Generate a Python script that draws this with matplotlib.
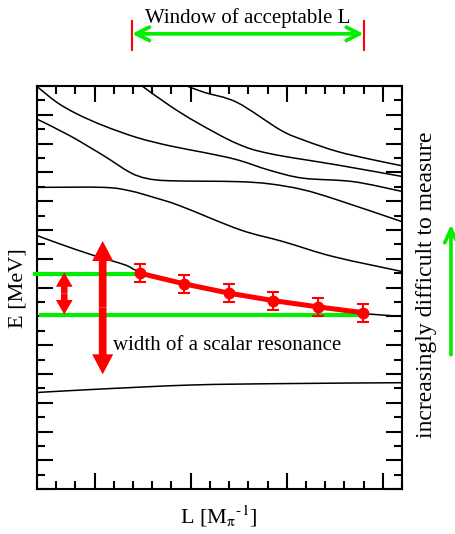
import numpy as np
import matplotlib
matplotlib.use("Agg")
import matplotlib.pyplot as plt
from matplotlib.ticker import MultipleLocator
from matplotlib.path import Path
from matplotlib.patches import PathPatch

plt.rcParams['font.family'] = ['Liberation Serif', 'DejaVu Serif']
plt.rcParams['mathtext.fontset'] = 'stix'

# Finite-volume energy levels (black lines), E vs L
lev1_L = [1.40, 1.608, 1.816, 2.094, 2.441, 2.785, 3.139, 3.482, 3.826, 4.169, 4.690, 5.20]
lev1_E = [13.98, 13.43, 13.03, 12.62, 12.21, 11.92, 11.69, 11.44, 11.07, 10.80, 10.68, 10.34]

lev2_L = [1.40, 1.744, 2.094, 2.368, 2.545, 2.785, 3.482, 3.826, 4.169, 4.523, 5.20]
lev2_E = [12.85, 12.27, 11.58, 11.00, 10.79, 10.71, 10.68, 10.60, 10.40, 10.05, 9.29]

lev3_L = [1.40, 2.094, 2.368, 2.618, 2.889, 3.513, 3.961, 4.482, 5.20]
lev3_E = [10.48, 10.48, 10.36, 10.13, 9.84, 9.01, 8.60, 8.08, 7.56]

lev4_L = [1.40, 1.619, 1.969, 2.316, 2.472, 2.934, 3.396, 3.86, 4.33, 4.797, 4.867, 5.20]
lev4_E = [8.81, 8.54, 8.14, 7.79, 7.55, 7.13, 6.81, 6.55, 6.33, 6.10, 6.08, 6.00]

lev5_L = [1.40, 2.004, 3.003, 3.992, 5.20]
lev5_E = [3.36, 3.47, 3.62, 3.67, 3.70]

lev6_L = [2.493, 2.785, 3.066, 3.482, 3.826, 4.523, 5.20]
lev6_E = [14.0, 13.31, 12.73, 12.00, 11.65, 11.26, 10.86]

lev7_L = [2.962, 3.139, 3.482, 3.930, 4.169, 4.523, 4.867, 5.20]
lev7_E = [14.0, 13.78, 13.43, 12.48, 12.13, 11.73, 11.46, 11.23]

levels = [(lev1_L, lev1_E), (lev2_L, lev2_E), (lev3_L, lev3_E), (lev4_L, lev4_E),
          (lev5_L, lev5_E), (lev6_L, lev6_E), (lev7_L, lev7_E)]

# Lattice points (red)
data_L = [2.472, 2.934, 3.396, 3.86, 4.33, 4.797]
data_E = [7.50, 7.13, 6.81, 6.55, 6.33, 6.13]
data_err = [0.31, 0.30, 0.31, 0.31, 0.31, 0.31]

# Window of acceptable L
window_L = [2.39, 4.80]

# Resonance band (green lines)
band_E = [7.48, 6.04]
band_L0 = [1.36, 1.42]
band_L1 = [2.47, 4.80]

GREEN = '#00ee00'

fig = plt.figure(figsize=(4.55, 5.34), dpi=100)
ax = fig.add_axes([0.0813, 0.0837, 0.8022, 0.7553])


# smooth line through the read points (Bezier segments, passes through every point)
def smooth_line(L, E, **kw):
    p = np.column_stack([L, E])
    verts = [p[0]]
    codes = [Path.MOVETO]
    n = len(p)
    for i in range(n - 1):
        p0 = p[max(i - 1, 0)]
        p1 = p[i]
        p2 = p[i + 1]
        p3 = p[min(i + 2, n - 1)]
        c1 = p1 + (p2 - p0) / 6
        c2 = p2 - (p3 - p1) / 6
        verts += [c1, c2, p2]
        codes += [Path.CURVE4] * 3
    ax.add_patch(PathPatch(Path(verts, codes), fill=False, **kw))


for L, E in levels:
    smooth_line(L, E, edgecolor='black', lw=1.1, zorder=2)

# green band lines
for e, l0, l1 in zip(band_E, band_L0, band_L1):
    ax.plot([l0, l1], [e, e], color=GREEN, lw=3, clip_on=False,
            solid_capstyle='butt', zorder=3)

# red data with errors
ax.errorbar(data_L, data_E, yerr=data_err, color='red', lw=3.6, marker='o',
            ms=7.5, capsize=4.2, elinewidth=1.5, capthick=1.5, zorder=5)


# double-headed filled arrow made from two halves
def double_arrow(x, y0, y1, w, hw, hl):
    ym = (y0 + y1) / 2
    for tip in (y0, y1):
        ax.arrow(x, ym, 0, tip - ym, width=w, head_width=hw, head_length=hl,
                 length_includes_head=True, color='red', lw=0, zorder=4)


double_arrow(1.684, 6.07, 7.53, 0.068, 0.174, 0.50)
double_arrow(2.084, 3.99, 8.62, 0.080, 0.219, 0.695)

ax.text(2.19, 4.84, 'width of a scalar resonance', fontsize=15,
        ha='left', va='baseline')

# window of acceptable L (above the axes)
ax.annotate('', xy=(window_L[0], 15.81), xytext=(window_L[1], 15.81),
            arrowprops=dict(arrowstyle='<->, head_length=0.95, head_width=0.48',
                            color=GREEN, lw=2.7, shrinkA=0, shrinkB=0),
            annotation_clip=False)
for l in window_L:
    ax.plot([l, l], [15.24, 16.27], color='red', lw=1.5, clip_on=False)
ax.text(3.597, 16.19, 'Window of acceptable L', fontsize=15, ha='center',
        va='baseline')

# increasingly difficult arrow
ax.annotate('', xy=(5.71, 9.19), xytext=(5.71, 4.67),
            arrowprops=dict(arrowstyle='->, head_length=1.0, head_width=0.45',
                            color=GREEN, lw=2.6, shrinkA=0, shrinkB=0),
            annotation_clip=False)
ax.text(5.45, 7.09, 'increasingly difficult to measure', fontsize=17,
        rotation=90, ha='center', va='center')

ax.set_xlim(1.4, 5.2)
ax.set_ylim(0, 14)
ax.xaxis.set_major_locator(MultipleLocator(1))
ax.xaxis.set_minor_locator(MultipleLocator(0.2))
ax.yaxis.set_major_locator(MultipleLocator(1))
ax.yaxis.set_minor_locator(MultipleLocator(0.5))
ax.tick_params(which='both', direction='in', top=True, right=True,
               labelbottom=False, labelleft=False, width=1.5)
ax.tick_params(which='major', length=11.5)
ax.tick_params(which='minor', length=6)
for s in ax.spines.values():
    s.set_linewidth(1.5)

ax.text(-0.052, 0.5, 'E [MeV]', fontsize=16, rotation=90, ha='center',
        va='center', transform=ax.transAxes)
ax.text(0.499, -0.085, r'L [M$_\mathrm{\pi}$$^\mathrm{\text{-1}}$]', fontsize=16,
        ha='center', va='baseline', transform=ax.transAxes)

fig.savefig('out.png', dpi=100)
